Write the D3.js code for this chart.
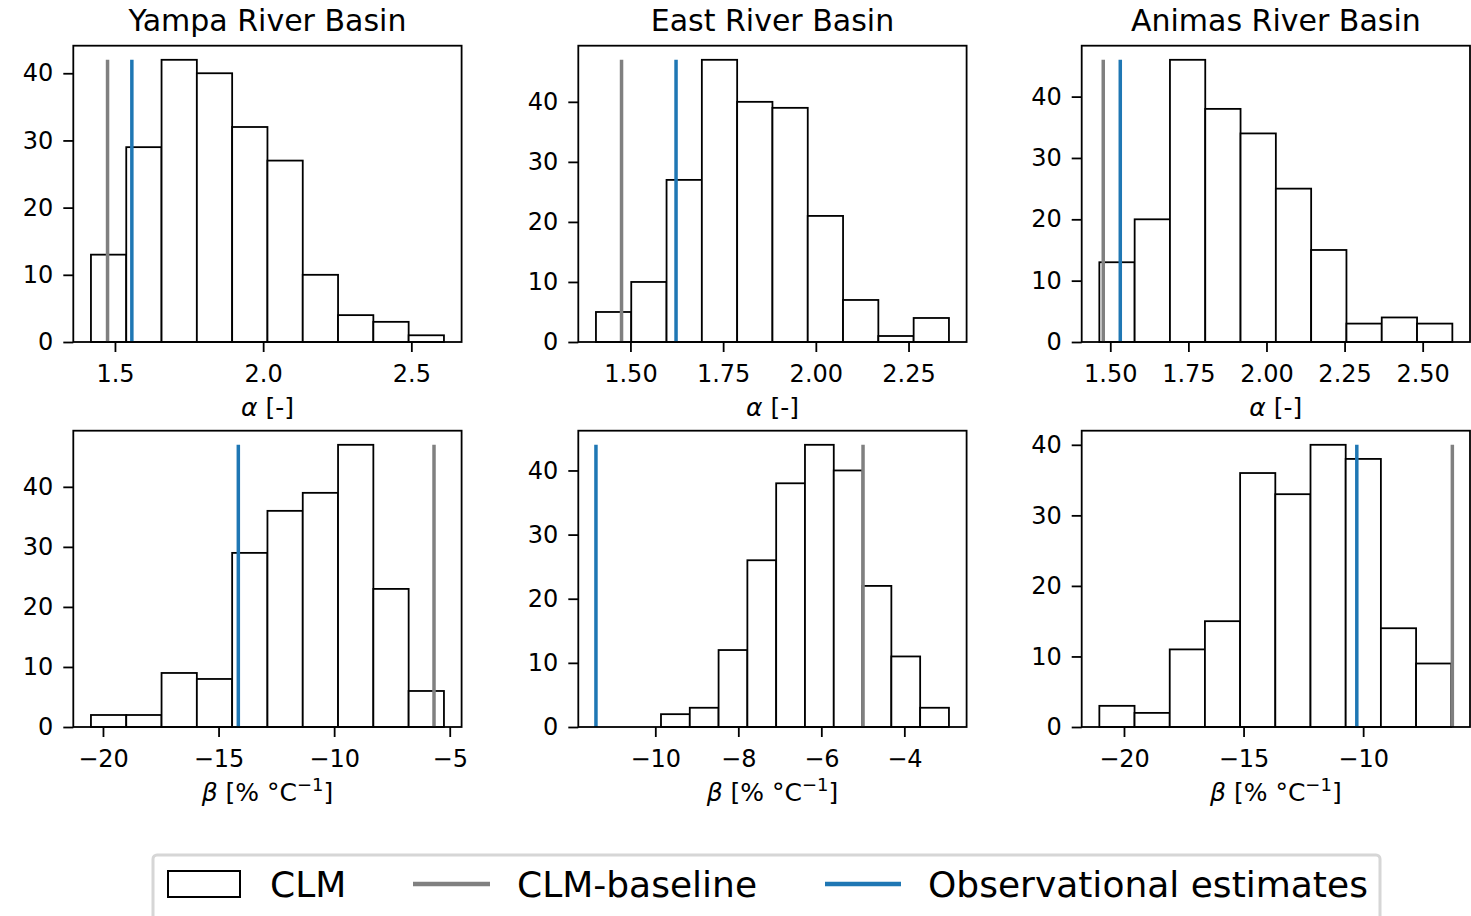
<!DOCTYPE html>
<html>
<head>
<meta charset="utf-8">
<script src="https://cdn.jsdelivr.net/npm/d3@7"></script>
<style>
  body { margin: 0; background: #fff; }
  svg { display: block; font-family: "DejaVu Sans", sans-serif; }
</style>
</head>
<body>
<svg id="chart" width="1471" height="916"></svg>
<script>
// basins (columns)
const basins = ["Yampa River Basin", "East River Basin", "Animas River Basin"];

// alpha histograms (top row): counts per bin, first/last bin edge
const alphaCounts = [
  [13, 29, 42, 40, 32, 27, 10, 4, 3, 1],
  [5, 10, 27, 47, 40, 39, 21, 7, 1, 4],
  [13, 20, 46, 38, 34, 25, 15, 3, 4, 3]
];
const alphaRange = [[1.419, 2.610], [1.407, 2.359], [1.465, 2.595]];
const alphaBaseline = [1.475, 1.476, 1.4775];
const alphaObs = [1.557, 1.623, 1.532];
const alphaTicks = [[1.5, 2.0, 2.5], [1.5, 1.75, 2.0, 2.25], [1.5, 1.75, 2.0, 2.25, 2.5]];
const alphaTickLabels = [["1.5", "2.0", "2.5"], ["1.50", "1.75", "2.00", "2.25"], ["1.50", "1.75", "2.00", "2.25", "2.50"]];

// beta histograms (bottom row)
const betaCounts = [
  [2, 2, 9, 8, 29, 36, 39, 47, 23, 6],
  [2, 3, 12, 26, 38, 44, 40, 22, 11, 3],
  [3, 2, 11, 15, 36, 33, 40, 38, 14, 9]
];
const betaRange = [[-20.52, -5.25], [-9.863, -2.925], [-21.03, -6.315]];
const betaBaseline = [-5.68, -4.995, -6.27];
const betaObs = [-14.145, -11.43, -10.265];
const betaTicks = [[-20, -15, -10, -5], [-10, -8, -6, -4], [-20, -15, -10]];
const betaTickLabels = [["−20", "−15", "−10", "−5"], ["−10", "−8", "−6", "−4"], ["−20", "−15", "−10"]];

const yTicks = [0, 10, 20, 30, 40];

const legendLabels = ["CLM", "CLM-baseline", "Observational estimates"];

const grayCol = "#808080";
const blueCol = "#1f77b4";

const svg = d3.select("#chart");
svg.append("rect").attr("width", 1471).attr("height", 916).attr("fill", "#fff");

const colX = [73.3, 578.3, 1081.7];
const rowY = [45.7, 430.7];
const pw = 388.3, ph = 296.3;

function drawPanel(col, row, counts, range, base, obs, ticks, tickLabels) {
  const nb = counts.length;
  const step = (range[1] - range[0]) / nb;
  const bins = counts.map((c, i) => ({ x0: range[0] + i * step, x1: range[0] + (i + 1) * step, c }));

  // matplotlib-style autoscale with 5% margins
  const ext = d3.extent([range[0], range[1], base, obs]);
  const m = (ext[1] - ext[0]) * 0.05;
  const ymax = d3.max(counts);

  const x = d3.scaleLinear().domain([ext[0] - m, ext[1] + m]).range([0, pw]);
  const y = d3.scaleLinear().domain([0, ymax * 1.05]).range([ph, 0]);

  const g = svg.append("g").attr("transform", `translate(${colX[col]},${rowY[row]})`);

  g.selectAll("rect.bar").data(bins).enter().append("rect")
    .attr("class", "bar")
    .attr("x", d => x(d.x0))
    .attr("width", d => x(d.x1) - x(d.x0))
    .attr("y", d => y(d.c))
    .attr("height", d => y(0) - y(d.c))
    .attr("fill", "#fff")
    .attr("stroke", "#000")
    .attr("stroke-width", 1.8);

  const vl = [{ v: base, col: grayCol }, { v: obs, col: blueCol }];
  g.selectAll("line.vl").data(vl).enter().append("line")
    .attr("class", "vl")
    .attr("x1", d => x(d.v)).attr("x2", d => x(d.v))
    .attr("y1", y(0)).attr("y2", y(ymax))
    .attr("stroke", d => d.col)
    .attr("stroke-width", 3.5);

  // axes
  const xa = g.append("g").attr("transform", `translate(0,${ph})`)
    .call(d3.axisBottom(x).tickValues(ticks).tickFormat((d, i) => tickLabels[i]).tickSize(10).tickPadding(13).tickSizeOuter(0));
  const ya = g.append("g")
    .call(d3.axisLeft(y).tickValues(yTicks.filter(t => t <= ymax * 1.05)).tickSize(10).tickPadding(10).tickSizeOuter(0));
  [xa, ya].forEach(a => {
    a.select(".domain").remove();
    a.selectAll(".tick line").attr("stroke", "#000").attr("stroke-width", 1.8);
    a.selectAll(".tick text").attr("fill", "#000").attr("font-size", 24)
      .attr("font-family", "DejaVu Sans, sans-serif");
  });

  // frame
  g.append("rect").attr("width", pw).attr("height", ph)
    .attr("fill", "none").attr("stroke", "#000").attr("stroke-width", 1.8);

  // x label
  const lab = g.append("text").attr("x", pw / 2).attr("y", ph + 74)
    .attr("text-anchor", "middle").attr("font-size", 25).attr("fill", "#000");
  if (row === 0) {
    lab.append("tspan").attr("font-style", "italic").text("α");
    lab.append("tspan").text(" [-]");
  } else {
    lab.append("tspan").attr("font-style", "italic").text("β");
    lab.append("tspan").text(" [% °C");
    lab.append("tspan").attr("font-size", 18).attr("dy", -10).text("−1");
    lab.append("tspan").attr("dy", 10).text("]");
  }

  if (row === 0) {
    g.append("text").attr("x", pw / 2).attr("y", -15)
      .attr("text-anchor", "middle").attr("font-size", 30).attr("fill", "#000")
      .text(basins[col]);
  }
}

for (let i = 0; i < 3; i++) {
  drawPanel(i, 0, alphaCounts[i], alphaRange[i], alphaBaseline[i], alphaObs[i], alphaTicks[i], alphaTickLabels[i]);
  drawPanel(i, 1, betaCounts[i], betaRange[i], betaBaseline[i], betaObs[i], betaTicks[i], betaTickLabels[i]);
}

// legend
const lg = svg.append("g");
lg.append("rect").attr("x", 153).attr("y", 855).attr("width", 1227).attr("height", 90)
  .attr("rx", 4).attr("fill", "#fff").attr("stroke", "#d6d6d6").attr("stroke-width", 3);
lg.append("rect").attr("x", 168).attr("y", 871).attr("width", 72).attr("height", 26)
  .attr("fill", "#fff").attr("stroke", "#000").attr("stroke-width", 2);
lg.append("line").attr("x1", 413).attr("x2", 490).attr("y1", 884).attr("y2", 884)
  .attr("stroke", grayCol).attr("stroke-width", 4.5);
lg.append("line").attr("x1", 825).attr("x2", 901).attr("y1", 884).attr("y2", 884)
  .attr("stroke", blueCol).attr("stroke-width", 4.5);
const lgX = [270, 517, 928];
lg.selectAll("text").data(legendLabels).enter().append("text")
  .attr("x", (d, i) => lgX[i]).attr("y", 897)
  .attr("font-size", 36).attr("fill", "#000")
  .text(d => d);
</script>
</body>
</html>
